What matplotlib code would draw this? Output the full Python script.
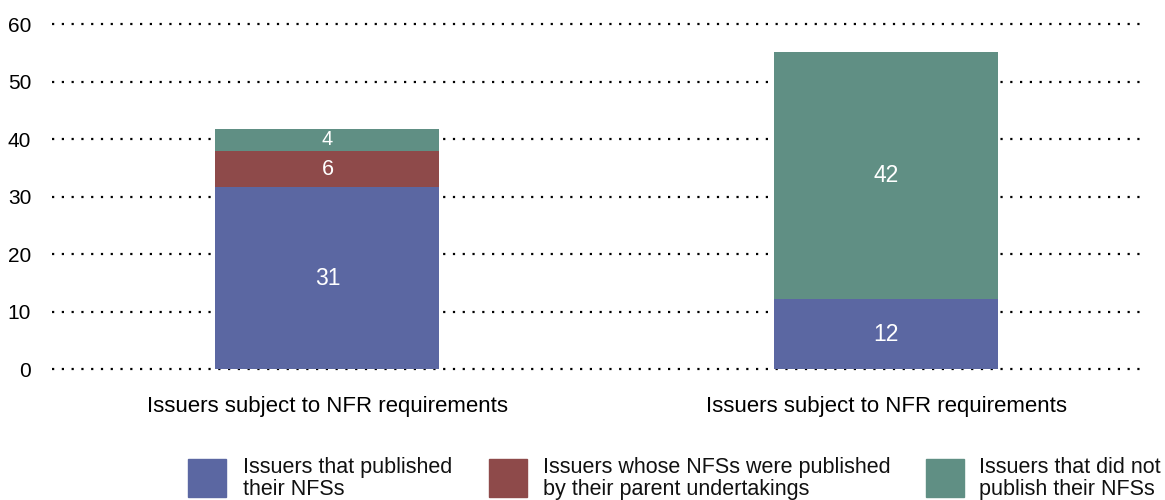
import matplotlib
matplotlib.use("Agg")
import matplotlib.pyplot as plt
from matplotlib.patches import Rectangle

plt.rcParams['font.family'] = ['Liberation Sans', 'DejaVu Sans']

categories = ["Issuers subject to NFR requirements", "Issuers subject to NFR requirements"]
series_names = ["Issuers that published\ntheir NFSs",
                "Issuers whose NFSs were published\nby their parent undertakings",
                "Issuers that did not\npublish their NFSs"]
published = [31.6, 12.2]
parent_published = [6.3, 0.0]
not_published = [3.9, 43.0]
published_labels = ["31", "12"]
parent_labels = ["6", ""]
not_published_labels = ["4", "42"]
y_ticks = [0, 10, 20, 30, 40, 50, 60]

colors = ["#5B67A2", "#8E4A4A", "#608F84"]

W, H = 1165, 500
fig = plt.figure(figsize=(W / 100, H / 100), dpi=100)
ax = fig.add_axes([52 / W, 1 - 369.3 / H, 1090 / W, (369.3 - 24) / H])

x = list(range(len(categories)))
bw = 0.401
series = [published, parent_published, not_published]
labels = [published_labels, parent_labels, not_published_labels]
bottoms = [0.0] * len(x)
for vals, labs, col in zip(series, labels, colors):
    bars = ax.bar(x, vals, bw, bottom=bottoms, color=col, zorder=3)
    for b, v, lab, bt in zip(bars, vals, labs, bottoms):
        if v > 0 and lab:
            fs = 16.5 if v > 10 else (15.5 if v > 5 else 14.5)
            ax.text(b.get_x() + b.get_width() / 2, bt + v / 2, lab,
                    ha='center', va='center', color='white', fontsize=fs, zorder=4)
    bottoms = [a + b for a, b in zip(bottoms, vals)]

ax.set_ylim(0, 60)
ax.set_xlim(-0.493, 1.458)
ax.set_yticks(y_ticks)
ax.set_xticks(x, categories)
for s in ax.spines.values():
    s.set_visible(False)
ax.tick_params(axis='y', length=0, pad=15, labelsize=15)
ax.tick_params(axis='x', length=0, pad=19, labelsize=16)
ax.yaxis.grid(True, color='black', linestyle=(0, (1, 3.4)), linewidth=1.6)
for gl in ax.get_ygridlines():
    gl.set_clip_on(False)
ax.set_axisbelow(True)

# legend
patch_x = [188, 489, 926]
text_x = [243, 543, 979]
for px, tx, name, col in zip(patch_x, text_x, series_names, colors):
    fig.patches.append(Rectangle((px / W, 1 - 497 / H), 38 / W, 38 / H,
                                 transform=fig.transFigure, color=col))
    fig.text(tx / W, 1 - 457 / H, name, ha='left', va='top', fontsize=15.5,
             linespacing=1.05, color='#111111')

fig.savefig("out.png", dpi=100)
